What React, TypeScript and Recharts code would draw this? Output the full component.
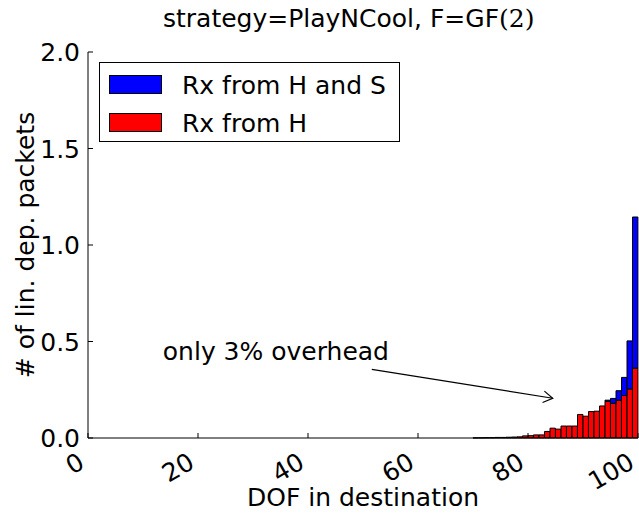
import React from 'react';
import { BarChart, Bar, XAxis, YAxis, ReferenceLine, ReferenceDot } from 'recharts';

// degrees of freedom in destination (bars below 70 are empty)
const dof = [70, 71, 72, 73, 74, 75, 76, 77, 78, 79, 80, 81, 82, 83, 84, 85, 86, 87, 88, 89, 90, 91, 92, 93, 94, 95, 96, 97, 98, 99];
// Rx from H (red)
const rxFromH = [
  0.001, 0.001, 0.002, 0.002, 0.003, 0.003, 0.004, 0.005, 0.006, 0.011,
  0.012, 0.016, 0.016, 0.034, 0.051, 0.046, 0.062, 0.062, 0.062, 0.122,
  0.113, 0.137, 0.139, 0.166, 0.19, 0.18, 0.196, 0.22, 0.254, 0.362,
];
// Rx from H and S (blue, total height)
const rxFromHandS = [
  0.001, 0.001, 0.002, 0.002, 0.003, 0.003, 0.004, 0.005, 0.006, 0.011,
  0.012, 0.016, 0.016, 0.034, 0.051, 0.046, 0.062, 0.062, 0.062, 0.122,
  0.113, 0.137, 0.139, 0.166, 0.196, 0.205, 0.245, 0.314, 0.503, 1.145,
];
const xTicks = [0, 20, 40, 60, 80, 100];
const yTicks = [0, 0.5, 1, 1.5, 2];

// annotation "only 3% overhead"
const arrowFrom = { x: 51.6, y: 0.356 };
const arrowTo = { x: 84.5, y: 0.206 };
const noteAt = { x: 13.6, y: 0.404 };

const data = dof.map((d, i) => ({
  pos: d + 0.5,
  fromH: rxFromH[i],
  fromS: Math.max(0, rxFromHandS[i] - rxFromH[i]),
}));

const W = 639;
const H = 514;
const FONT = '"DejaVu Sans", sans-serif';
const FS = 25;

const XTick = ({ x, y, payload }: any) => (
  <g>
    <line x1={x} x2={x} y1={y} y2={y - 5} stroke="#000" />
    <text
      x={x - 2}
      y={y + 29}
      textAnchor="end"
      transform={`rotate(-30, ${x - 2}, ${y + 29})`}
      fontSize={FS}
      fontFamily={FONT}
      fill="#000"
    >
      {payload.value}
    </text>
  </g>
);

const TopTick = ({ x, y }: any) => <line x1={x} x2={x} y1={y} y2={y + 5} stroke="#000" />;

const YTick = ({ x, y, payload }: any) => (
  <g>
    <line x1={x} x2={x + 5} y1={y} y2={y} stroke="#000" />
    <text x={x - 8} y={y} dy="0.36em" textAnchor="end" fontSize={FS} fontFamily={FONT} fill="#000">
      {Number(payload.value).toFixed(1)}
    </text>
  </g>
);

const RightTick = ({ x, y }: any) => <line x1={x} x2={x - 5} y1={y} y2={y} stroke="#000" />;

const Arrow = ({ x1, y1, x2, y2 }: any) => {
  const a = Math.atan2(y2 - y1, x2 - x1);
  const len = 11;
  const spread = 0.55;
  const p1 = `${x2 - len * Math.cos(a - spread)},${y2 - len * Math.sin(a - spread)}`;
  const p2 = `${x2 - len * Math.cos(a + spread)},${y2 - len * Math.sin(a + spread)}`;
  return (
    <g>
      <line x1={x1} y1={y1} x2={x2} y2={y2} stroke="#000" strokeWidth={1.2} />
      <polyline points={`${p1} ${x2},${y2} ${p2}`} fill="none" stroke="#000" strokeWidth={1.2} />
    </g>
  );
};

const Note = ({ cx, cy }: any) => (
  <text x={cx} y={cy} fontSize={FS} fontFamily={FONT} fill="#000">
    only 3% overhead
  </text>
);

const App: React.FC = () => {
  return (
    <div style={{ position: 'absolute', left: 0, top: 0, width: W, height: H, background: '#fff' }}>
      <BarChart width={W} height={H} data={data} margin={{ top: 52, right: 1, bottom: 0, left: 0 }} barCategoryGap={0} barGap={0}>
        <XAxis
          xAxisId="bottom"
          type="number"
          dataKey="pos"
          domain={[0, 100]}
          ticks={xTicks}
          interval={0}
          height={76}
          tickSize={0}
          tickMargin={0}
          tickLine={false}
          axisLine={{ stroke: '#000' }}
          tick={<XTick />}
        />
        <XAxis
          xAxisId="top"
          orientation="top"
          type="number"
          dataKey="pos"
          domain={[0, 100]}
          ticks={xTicks}
          interval={0}
          height={0}
          tickSize={0}
          tickMargin={0}
          tickLine={false}
          axisLine={{ stroke: '#000' }}
          tick={<TopTick />}
        />
        <YAxis
          yAxisId="left"
          type="number"
          domain={[0, 2]}
          ticks={yTicks}
          interval={0}
          width={88}
          tickSize={0}
          tickMargin={0}
          tickLine={false}
          axisLine={{ stroke: '#000' }}
          tick={<YTick />}
        />
        <YAxis
          yAxisId="right"
          orientation="right"
          type="number"
          domain={[0, 2]}
          ticks={yTicks}
          interval={0}
          width={0}
          tickSize={0}
          tickMargin={0}
          tickLine={false}
          axisLine={{ stroke: '#000' }}
          tick={<RightTick />}
        />
        <Bar xAxisId="bottom" yAxisId="left" dataKey="fromH" stackId="rx" fill="#ff0000" stroke="#000" strokeWidth={1} barSize={5.4} isAnimationActive={false} />
        <Bar xAxisId="bottom" yAxisId="left" dataKey="fromS" stackId="rx" fill="#0000ff" stroke="#000" strokeWidth={1} barSize={5.4} isAnimationActive={false} />
        <ReferenceLine xAxisId="bottom" yAxisId="left" segment={[arrowFrom, arrowTo]} shape={<Arrow />} />
        <ReferenceDot xAxisId="bottom" yAxisId="left" x={noteAt.x} y={noteAt.y} r={0} shape={<Note />} />
      </BarChart>

      <svg width={W} height={H} style={{ position: 'absolute', left: 0, top: 0, pointerEvents: 'none' }}>
        <text x={163} y={27} fontSize={FS} fontFamily={FONT} fill="#000">
          strategy=PlayNCool, F=GF
          <tspan fontFamily='"DejaVu Serif", serif'>(2)</tspan>
        </text>
        <text x={363} y={506} textAnchor="middle" fontSize={FS} fontFamily={FONT} fill="#000">
          DOF in destination
        </text>
        <text x={34} y={245} textAnchor="middle" transform="rotate(-90, 34, 245)" fontSize={FS} fontFamily={FONT} fill="#000">
          # of lin. dep. packets
        </text>

        <rect x={99.5} y={62.5} width={300} height={79} fill="#fff" stroke="#000" />
        <rect x={109.5} y={75.5} width={52} height={18} fill="#0000ff" stroke="#000" />
        <text x={182} y={93.5} fontSize={FS} fontFamily={FONT} fill="#000">Rx from H and S</text>
        <rect x={109.5} y={113.5} width={52} height={18} fill="#ff0000" stroke="#000" />
        <text x={182} y={131.5} fontSize={FS} fontFamily={FONT} fill="#000">Rx from H</text>
      </svg>
    </div>
  );
};

export default App;
